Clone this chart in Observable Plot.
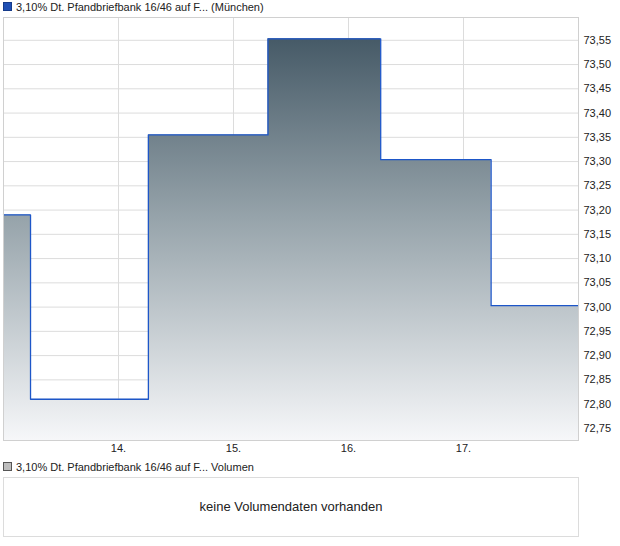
<!DOCTYPE html>
<html>
<head>
<meta charset="utf-8">
<script src="https://cdn.jsdelivr.net/npm/d3@7"></script>
<script src="https://cdn.jsdelivr.net/npm/@observablehq/plot@0.6"></script>
<style>
  html, body { margin: 0; padding: 0; background: #fff; }
  body { width: 620px; height: 546px; position: relative; font-family: "Liberation Sans", Arial, sans-serif; color: #222; }
  .legend { position: absolute; left: 3px; font-size: 11px; line-height: 14px; white-space: nowrap; }
  .sw { display: inline-block; width: 7px; height: 7px; margin-right: 4px; vertical-align: 0px; }
  #chart { position: absolute; left: 0; top: 16px; }
  #vol { position: absolute; left: 3px; top: 477px; width: 574px; height: 58px; border: 1px solid #dcdcdc; font-size: 13px; text-align: center; line-height: 58px; }
</style>
</head>
<body>
<div class="legend" style="top:0px"><span class="sw" style="background:#1f4fb4;border:1px solid #163b8a"></span><span id="title1"></span></div>
<div id="chart"></div>
<div class="legend" style="top:460px"><span class="sw" style="background:#bdbdbd;border:1px solid #555"></span><span id="title2"></span></div>
<div id="vol"></div>
<script>
// ---- data ----
const titleMain = "3,10% Dt. Pfandbriefbank 16/46 auf F... (München)";
const titleVolume = "3,10% Dt. Pfandbriefbank 16/46 auf F... Volumen";
const noVolumeText = "keine Volumendaten vorhanden";
// time in days (day-of-month, fractional) and price
const times  = [13.0,  13.235, 14.26,  15.30,  16.28,  17.24,  18.0];
const prices = [73.19, 72.81,  73.355, 73.553, 73.304, 73.003, 73.003];
const xTicks = [14, 15, 16, 17];
const yTicks = [72.75, 72.80, 72.85, 72.90, 72.95, 73.00, 73.05, 73.10, 73.15, 73.20, 73.25, 73.30, 73.35, 73.40, 73.45, 73.50, 73.55];
const xDomain = [13, 18];
const yDomain = [72.725, 73.597];

document.getElementById("title1").textContent = titleMain;
document.getElementById("title2").textContent = titleVolume;
document.getElementById("vol").textContent = noVolumeText;

const data = times.map((t, i) => ({t, p: prices[i]}));
const fmt = v => v.toFixed(2).replace(".", ",");

const gradient = () => {
  const defs = d3.create("svg:defs");
  const g = defs.append("linearGradient").attr("id", "areaGrad")
    .attr("x1", 0).attr("y1", 0).attr("x2", 0).attr("y2", 1);
  g.append("stop").attr("offset", "0%").attr("stop-color", "#465a67");
  g.append("stop").attr("offset", "45%").attr("stop-color", "#97a4ab");
  g.append("stop").attr("offset", "100%").attr("stop-color", "#f6f7f9");
  return defs.node();
};

const chart = Plot.plot({
  width: 620,
  height: 446,
  marginTop: 1,
  marginBottom: 22,
  marginLeft: 3,
  marginRight: 42,
  style: {fontFamily: "'Liberation Sans', Arial, sans-serif", fontSize: "11px", color: "#222", background: "#fff"},
  x: {domain: xDomain, type: "linear", label: null},
  y: {domain: yDomain, label: null},
  marks: [
    gradient,
    Plot.ruleY(yTicks, {y: d => d, stroke: "#dcdcdc", strokeWidth: 1}),
    Plot.ruleX(xTicks, {x: d => d, stroke: "#dcdcdc", strokeWidth: 1}),
    Plot.areaY(data, {x: "t", y1: yDomain[0], y2: "p", curve: "step-after", fill: "url(#areaGrad)"}),
    Plot.lineY(data, {x: "t", y: "p", curve: "step-after", stroke: "#1d56c8", strokeWidth: 1.3}),
    Plot.frame({stroke: "#d0d0d0"}),
    Plot.axisY(yTicks, {anchor: "right", label: null, tickSize: 0, tickPadding: 5, tickFormat: fmt, fill: "#222"}),
    Plot.axisX(xTicks, {anchor: "bottom", label: null, tickSize: 0, tickPadding: 4, tickFormat: d => d + ".", fill: "#222"})
  ]
});
document.getElementById("chart").appendChild(chart);
</script>
</body>
</html>
